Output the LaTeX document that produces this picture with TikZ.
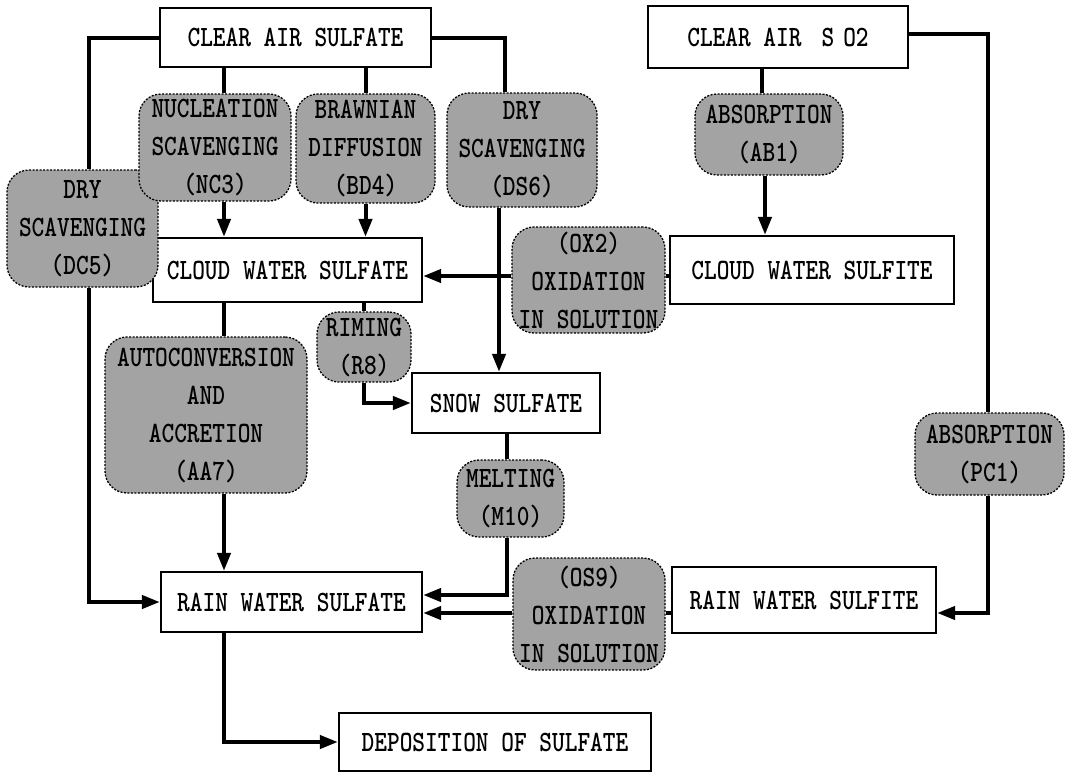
\documentclass[tikz,border=0pt]{standalone}
\usepackage{fontspec}
\newfontfamily\dfont[FakeStretch=0.82]{lmmonolt10-bold.otf}
\usetikzlibrary{arrows.meta}
\definecolor{shadegray}{gray}{0.64}
\begin{document}
\begin{tikzpicture}[x=1pt,y=-1pt,
  every node/.style={font=\dfont\fontsize{29.5}{38}\selectfont, inner sep=0pt, align=center},
  box/.style={draw, line width=2.2pt, fill=white},
  proc/.style={draw, line width=1.3pt, dash pattern=on 2pt off 1.5pt, fill=shadegray, rounded corners=22pt},
  conn/.style={line width=4pt},
  arr/.style={conn, -{Triangle[length=18pt,width=13pt]}}]
\useasboundingbox (0,0) rectangle (1065,774);
% helper coordinates
\coordinate (x89) at (89,0);
\coordinate (x224) at (224,0);
\coordinate (x499) at (499,0);
\coordinate (x505) at (505,0);
\coordinate (x507) at (507,0);
\coordinate (x762) at (762,0);
\coordinate (x765) at (765,0);
\coordinate (x988) at (988,0);
\coordinate (y34) at (0,34);
\coordinate (y276) at (0,276);
\coordinate (y595) at (0,595);
\coordinate (y613) at (0,613);
% boxes
\node[box, minimum width=271pt, minimum height=59pt] (cas) at (295.5,37.5) {CLEAR AIR SULFATE};
\node[box, minimum width=260pt, minimum height=62pt] (so2) at (778,37) {CLEAR AIR\hspace{20pt}S\hspace{9pt}O2};
\node[box, minimum width=269pt, minimum height=64pt] (cws) at (287.5,270) {CLOUD WATER SULFATE};
\node[box, minimum width=284pt, minimum height=68pt] (cwsi) at (812,270) {CLOUD WATER SULFITE};
\node[box, minimum width=188pt, minimum height=60pt] (snow) at (506,403) {SNOW SULFATE};
\node[box, minimum width=261pt, minimum height=60pt] (rws) at (291.5,602) {RAIN WATER SULFATE};
\node[box, minimum width=264pt, minimum height=66pt] (rwsi) at (804,600) {RAIN WATER SULFITE};
\node[box, minimum width=312pt, minimum height=58pt] (dep) at (495,742) {DEPOSITION OF SULFATE};
% process boxes
\node[proc, minimum width=151pt, minimum height=117pt] (dc5) at (82.5,228.5) {DRY\\SCAVENGING\\(DC5)};
\node[proc, minimum width=152pt, minimum height=107pt] (nc3) at (215,147.5) {NUCLEATION\\SCAVENGING\\(NC3)};
\node[proc, minimum width=139pt, minimum height=109pt] (bd4) at (365.5,148.5) {BRAWNIAN\\DIFFUSION\\(BD4)};
\node[proc, minimum width=150pt, minimum height=114pt] (ds6) at (522,150) {DRY\\SCAVENGING\\(DS6)};
\node[proc, minimum width=148pt, minimum height=81pt] (ab1) at (769,134.5) {ABSORPTION\\(AB1)};
\node[proc, minimum width=153pt, minimum height=106pt] (ox2) at (588.5,280) {(OX2)\\OXIDATION\\IN SOLUTION};
\node[proc, minimum width=202pt, minimum height=156pt] (aa7) at (206,415) {AUTOCONVERSION\\AND\\ACCRETION\\(AA7)};
\node[proc, minimum width=94pt, minimum height=70pt] (r8) at (364,347) {RIMING\\(R8)};
\node[proc, minimum width=107pt, minimum height=77pt] (m10) at (510.5,498.5) {MELTING\\(M10)};
\node[proc, minimum width=152pt, minimum height=112pt] (os9) at (589,614) {(OS9)\\OXIDATION\\IN SOLUTION};
\node[proc, minimum width=149pt, minimum height=82pt] (pc1) at (989.5,454) {ABSORPTION\\(PC1)};
% connectors
\draw[conn] (cas.west) -| (dc5.north -| x89);
\draw[arr] (dc5.south -| x89) |- (rws.west);
\draw[conn] (cas.east) -| (ds6.north -| x505);
\draw[arr] (ds6.south -| x499) -- (snow.north -| x499);
\draw[conn] (cas.south -| x224) -- (nc3.north -| x224);
\draw[arr] (nc3.south -| x224) -- (cws.north -| x224);
\draw[conn] (cas.south -| bd4.north) -- (bd4.north);
\draw[arr] (bd4.south) -- (bd4.south |- cws.north);
\draw[conn] (so2.south -| x762) -- (ab1.north -| x762);
\draw[arr] (ab1.south -| x765) -- (cwsi.north -| x765);
\draw[conn] (cwsi.west |- y276) -- (ox2.east |- y276);
\draw[arr] (ox2.west |- y276) -- (cws.east |- y276);
\draw[conn] (so2.east |- y34) -| (pc1.north -| x988);
\draw[arr] (pc1.south -| x988) |- (rwsi.east |- y613);
\draw[conn] (cws.south -| x224) -- (aa7.north -| x224);
\draw[arr] (aa7.south -| x224) -- (rws.north -| x224);
\draw[conn] (cws.south -| r8.north) -- (r8.north);
\draw[arr] (r8.south) |- (snow.west);
\draw[conn] (snow.south -| x507) -- (m10.north -| x507);
\draw[arr] (m10.south -| x507) |- (rws.east |- y595);
\draw[conn] (rwsi.west |- y613) -- (os9.east |- y613);
\draw[arr] (os9.west |- y613) -- (rws.east |- y613);
\draw[arr] (rws.south -| x224) |- (dep.west);
\end{tikzpicture}
\end{document}
